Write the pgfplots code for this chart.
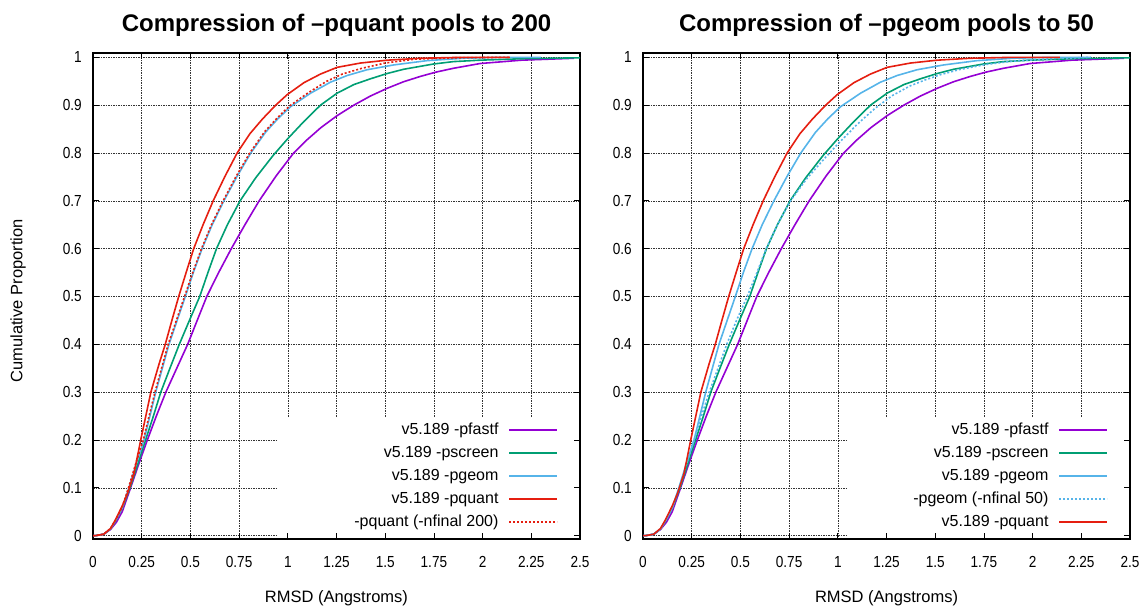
\documentclass[border=0pt]{standalone}
\usepackage{fontspec}
\setmainfont{Liberation Sans}
\newfontfamily\tickfont[FakeStretch=0.85]{Liberation Sans}
\usepackage{pgfplots}
\pgfplotsset{compat=1.18}

\definecolor{cfastf}{HTML}{9400D3}
\definecolor{cscreen}{HTML}{009E73}
\definecolor{cgeom}{HTML}{56B4E9}
\definecolor{cquant}{HTML}{E51E10}

% layer for the white legend patch: above the grid, below the ticks
\pgfplotsset{
  layers/legendfix/.define layer set={
    axis background,axis grid,legendbg,axis ticks,axis lines,axis tick labels,pre main,main,axis descriptions,axis foreground
  }{
    grid style={/pgfplots/on layer=axis grid},
    tick style={/pgfplots/on layer=axis ticks},
    axis line style={/pgfplots/on layer=axis lines},
    label style={/pgfplots/on layer=axis descriptions},
    legend style={/pgfplots/on layer=axis descriptions},
    title style={/pgfplots/on layer=axis descriptions},
    ticklabel style={/pgfplots/on layer=axis tick labels},
    axis background@ style={/pgfplots/on layer=axis background},
    3d box foreground style={/pgfplots/on layer=axis foreground},
  },
}

\pgfplotsset{
  curve/.style={line width=1.6pt, line join=round, mark=none},
  cdf/.style={
    set layers=legendfix,
    scale only axis, width=487pt, height=486pt,
    xmin=0, xmax=2.5, ymin=-0.007, ymax=1.009,
    xtick={0,0.25,0.5,0.75,1,1.25,1.5,1.75,2,2.25,2.5},
    xticklabels={0,0.25,0.5,0.75,1,1.25,1.5,1.75,2,2.25,2.5},
    ytick={0,0.1,0.2,0.3,0.4,0.5,0.6,0.7,0.8,0.9,1},
    yticklabels={0,0.1,0.2,0.3,0.4,0.5,0.6,0.7,0.8,0.9,1},
    grid=major,
    major grid style={black!80, line width=0.6pt, dash pattern=on 1.5pt off 1pt},
    axis line style={line width=1.4pt},
    tick style={black, line width=0.8pt},
    tick align=inside, major tick length=6pt,
    tick label style={font=\tickfont\fontsize{16}{16}\selectfont, inner sep=0pt},
    yticklabel style={anchor=east, xshift=-11pt},
    xticklabel style={anchor=north, yshift=-17pt},
    title style={font=\bfseries\fontsize{24}{24}\selectfont, at={(rel axis cs:0.5,1)}, anchor=base, yshift=15pt},
    xlabel style={font=\fontsize{16.5}{16.5}\selectfont, at={(axis description cs:0.5,-0.121)}, anchor=center},
    ylabel style={font=\fontsize{16.5}{16.5}\selectfont, at={(axis description cs:-0.154,0.49)}, anchor=center},
    xlabel={RMSD (Angstroms)},
    legend plot pos=right, legend cell align=right,
    legend image code/.code={\draw[##1, line width=1.6pt] (0pt,0pt) -- (48pt,0pt);},
    legend style={at={(rel axis cs:0.955,0.018)}, anchor=south east, draw=none, fill=none,
      inner sep=0pt, outer sep=0pt, row sep=7pt, column sep=10pt,
      font=\fontsize{16}{16}\selectfont,
      nodes={inner sep=0pt, text height=12pt, text depth=4pt}},
  },
}

\pgfplotstableread{
x y
0 0
0.012 0
0.055 0.003
0.09 0.013
0.12 0.028
0.15 0.05
0.193 0.1
0.235 0.15
0.279 0.2
0.325 0.25
0.374 0.3
0.43 0.35
0.486 0.4
0.535 0.45
0.584 0.5
0.645 0.55
0.71 0.6
0.78 0.65
0.853 0.7
0.94 0.752
1.03 0.8
1.1 0.828
1.17 0.853
1.253 0.878
1.339 0.9
1.424 0.919
1.509 0.935
1.595 0.949
1.68 0.96
1.76 0.969
1.85 0.977
1.987 0.987
2.2 0.994
2.47 0.998
}\pfastf

\pgfplotstableread{
x y
0 0
0.012 0
0.055 0.003
0.09 0.014
0.115 0.03
0.15 0.057
0.19 0.1
0.23 0.15
0.27 0.2
0.31 0.25
0.348 0.3
0.395 0.35
0.443 0.4
0.495 0.45
0.548 0.5
0.59 0.55
0.634 0.6
0.69 0.65
0.755 0.7
0.835 0.748
0.925 0.795
1.0 0.83
1.083 0.866
1.168 0.9
1.253 0.925
1.339 0.943
1.424 0.955
1.509 0.966
1.595 0.975
1.748 0.986
1.85 0.991
1.987 0.994
2.2 0.997
2.5 0.999
}\pscreen

\pgfplotstableread{
x y
0 0
0.012 0
0.055 0.003
0.09 0.014
0.115 0.031
0.15 0.058
0.184 0.1
0.222 0.15
0.262 0.2
0.292 0.25
0.322 0.3
0.356 0.35
0.39 0.4
0.432 0.45
0.474 0.5
0.515 0.55
0.56 0.6
0.612 0.65
0.672 0.7
0.738 0.75
0.81 0.8
0.885 0.843
0.95 0.872
1.015 0.897
1.117 0.925
1.219 0.948
1.305 0.962
1.407 0.974
1.543 0.984
1.714 0.993
1.9 0.998
2.1 1.0
2.3 1.0
}\pgeom

\pgfplotstableread{
x y
0 0
0.012 0
0.055 0.003
0.09 0.015
0.115 0.033
0.15 0.062
0.176 0.087
0.21 0.129
0.245 0.2
0.27 0.248
0.297 0.3
0.34 0.36
0.371 0.4
0.405 0.45
0.44 0.5
0.478 0.55
0.517 0.6
0.565 0.65
0.617 0.7
0.676 0.75
0.74 0.8
0.805 0.84
0.87 0.871
0.938 0.9
0.997 0.922
1.083 0.947
1.168 0.965
1.253 0.979
1.373 0.988
1.51 0.994
1.68 0.998
1.9 1.0
2.14 1.0
}\pquant

\pgfplotstableread{
x y
0 0
0.012 0
0.055 0.003
0.09 0.015
0.115 0.032
0.15 0.06
0.182 0.1
0.219 0.15
0.258 0.2
0.288 0.25
0.318 0.3
0.352 0.35
0.386 0.4
0.428 0.45
0.47 0.5
0.512 0.55
0.557 0.6
0.608 0.65
0.668 0.7
0.733 0.75
0.805 0.8
0.88 0.844
0.945 0.873
1.008 0.898
1.105 0.926
1.2 0.95
1.28 0.965
1.38 0.977
1.5 0.988
1.65 0.996
1.85 0.999
2.14 1.0
}\pquantnf

\pgfplotstableread{
x y
0 0
0.012 0
0.055 0.003
0.09 0.014
0.115 0.031
0.15 0.058
0.186 0.1
0.224 0.15
0.262 0.2
0.3 0.25
0.34 0.3
0.385 0.35
0.43 0.4
0.48 0.45
0.535 0.5
0.585 0.55
0.632 0.6
0.69 0.65
0.757 0.7
0.84 0.746
0.935 0.79
1.015 0.825
1.1 0.86
1.19 0.893
1.28 0.92
1.37 0.94
1.45 0.953
1.53 0.964
1.62 0.974
1.76 0.985
1.9 0.992
2.1 0.997
2.3 1.0
}\pgeomnf

\begin{document}
\begin{tikzpicture}
\path (0pt,0pt) rectangle (1145pt,607pt);

\begin{axis}[cdf, at={(93pt,68pt)}, anchor=south west,
  title={Compression of \textendash pquant pools to 200},
  ylabel={Cumulative Proportion}]
\begin{pgfonlayer}{legendbg}
\fill[white] (rel axis cs:0.38,0) rectangle (rel axis cs:1,0.249);
\end{pgfonlayer}
\addplot[curve, cfastf] table {\pfastf};
\addlegendentry{v5.189 -pfastf}
\addplot[curve, cscreen] table {\pscreen};
\addlegendentry{v5.189 -pscreen}
\addplot[curve, cgeom] table {\pgeom};
\addlegendentry{v5.189 -pgeom}
\addplot[curve, cquant] table {\pquant};
\addlegendentry{v5.189 -pquant}
\addplot[curve, cquant, dash pattern=on 2pt off 2pt] table {\pquantnf};
\addlegendentry{-pquant (-nfinal 200)}
\end{axis}

\begin{axis}[cdf, at={(643pt,68pt)}, anchor=south west,
  title={Compression of \textendash pgeom pools to 50}]
\begin{pgfonlayer}{legendbg}
\fill[white] (rel axis cs:0.421,0) rectangle (rel axis cs:1,0.249);
\end{pgfonlayer}
\addplot[curve, cfastf] table {\pfastf};
\addlegendentry{v5.189 -pfastf}
\addplot[curve, cscreen] table {\pscreen};
\addlegendentry{v5.189 -pscreen}
\addplot[curve, cgeom] table {\pgeom};
\addlegendentry{v5.189 -pgeom}
\addplot[curve, cgeom, dash pattern=on 2pt off 2pt] table {\pgeomnf};
\addlegendentry{-pgeom (-nfinal 50)}
\addplot[curve, cquant] table {\pquant};
\addlegendentry{v5.189 -pquant}
\end{axis}
\end{tikzpicture}
\end{document}
